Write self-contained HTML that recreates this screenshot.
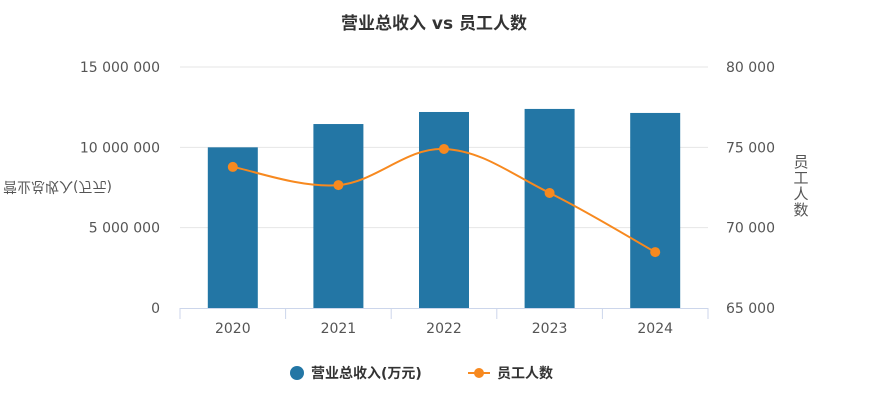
<!DOCTYPE html>
<html><head><meta charset="utf-8">
<style>
body{margin:0;background:#fff;font-family:"DejaVu Sans","Noto Sans CJK SC",sans-serif;}
svg text{font-family:"DejaVu Sans","Noto Sans CJK SC",sans-serif;}
</style></head>
<body>
<svg id="c" width="869" height="402" xmlns="http://www.w3.org/2000/svg">
<text x="434" y="29" text-anchor="middle" font-size="17" font-weight="bold" fill="#333">营业总收入 vs 员工人数</text>
<g id="grid"></g>
<g id="bars"></g>
<g id="line"></g>
<g id="axes"></g>
<defs><clipPath id="lc"><rect x="0" y="175" width="130" height="20"/></clipPath></defs>
<g clip-path="url(#lc)">
<text transform="translate(0,372) scale(1,-1)" x="3" y="190" font-size="14" fill="#555">营业总收入(万元)</text>
</g>
<g font-size="15" fill="#555">
<text x="801" y="167" text-anchor="middle">员</text>
<text x="801" y="183" text-anchor="middle">工</text>
<text x="801" y="199" text-anchor="middle">人</text>
<text x="801" y="215" text-anchor="middle">数</text>
</g>
<g>
<g><circle cx="297" cy="373" r="7" fill="#2376a5"/><text x="311" y="378" font-size="14" font-weight="bold" fill="#333">营业总收入(万元)</text></g>
<g><line x1="468" y1="373" x2="490" y2="373" stroke="#f7891f" stroke-width="2"/><circle cx="479" cy="373" r="5" fill="#f7891f"/><text x="497" y="378" font-size="14" font-weight="bold" fill="#333">员工人数</text></g>
</g>
</svg>
<script>
const categories=["2020","2021","2022","2023","2024"];
const revenue=[10000000,11450000,12200000,12390000,12140000];
const employees=[73780,72650,74900,72160,68480];
const leftTicks=[0,5000000,10000000,15000000];
const leftTickLabels=["0","5 000 000","10 000 000","15 000 000"];
const rightTicks=[65000,70000,75000,80000];
const rightTickLabels=["65 000","70 000","75 000","80 000"];
const NS="http://www.w3.org/2000/svg";
const X0=180,X1=708,Y0=308,Y1=67;
const bw=(X1-X0)/categories.length;
const xc=i=>X0+bw*(i+0.5);
const yl=v=>Y0-(v/15000000)*(Y0-Y1);
const yr=v=>Y0-((v-65000)/15000)*(Y0-Y1);
function mk(t,a,p){const e=document.createElementNS(NS,t);for(const k in a)e.setAttribute(k,a[k]);p.appendChild(e);return e;}
const grid=document.getElementById('grid'),bars=document.getElementById('bars'),line=document.getElementById('line'),axes=document.getElementById('axes');
leftTicks.forEach((v,i)=>{
 if(i>0){const g=mk('line',{x1:X0,x2:X1,y1:yl(v),y2:yl(v),stroke:'#e6e6e6','stroke-width':1},grid);
 
 }
 const t=mk('text',{x:160,y:yl(v)+5,'text-anchor':'end','font-size':14,fill:'#555'},axes);t.textContent=leftTickLabels[i];
 
 
});
rightTicks.forEach((v,i)=>{
 const t=mk('text',{x:726,y:yr(v)+5,'font-size':14,fill:'#555'},axes);t.textContent=rightTickLabels[i];
 
 
});
const ax=mk('line',{x1:X0,x2:X1,y1:Y0+0.5,y2:Y0+0.5,stroke:'#ccd6eb','stroke-width':1},axes);


for(let i=0;i<=categories.length;i++){
 const tk=mk('line',{x1:X0+bw*i,x2:X0+bw*i,y1:Y0,y2:Y0+11,stroke:'#ccd6eb','stroke-width':1},axes);
 
 
}
categories.forEach((c,i)=>{
 const t=mk('text',{x:xc(i),y:333,'text-anchor':'middle','font-size':14,fill:'#555'},axes);t.textContent=c;
 
 
 const b=mk('rect',{x:xc(i)-25,y:yl(revenue[i]),width:50,height:Y0-yl(revenue[i]),fill:'#2376a5'},bars);
 
 
});
const pts=employees.map((v,i)=>[xc(i),yr(v)]);
let d='M'+pts[0][0]+','+pts[0][1];
for(let i=0;i<pts.length-1;i++){
 const p0=pts[Math.max(0,i-1)],p1=pts[i],p2=pts[i+1],p3=pts[Math.min(pts.length-1,i+2)];
 const k=0.18;
 const c1=[p1[0]+(p2[0]-p0[0])*k,p1[1]+(p2[1]-p0[1])*k];
 const c2=[p2[0]-(p3[0]-p1[0])*k,p2[1]-(p3[1]-p1[1])*k];
 d+=` C${c1[0]},${c1[1]} ${c2[0]},${c2[1]} ${p2[0]},${p2[1]}`;
}
const pl=mk('path',{d:d,fill:'none',stroke:'#f7891f','stroke-width':2},line);


pts.forEach((p,i)=>{
 const c=mk('circle',{cx:p[0],cy:p[1],r:5,fill:'#f7891f'},line);
 
 
});
</script>
</body></html>
